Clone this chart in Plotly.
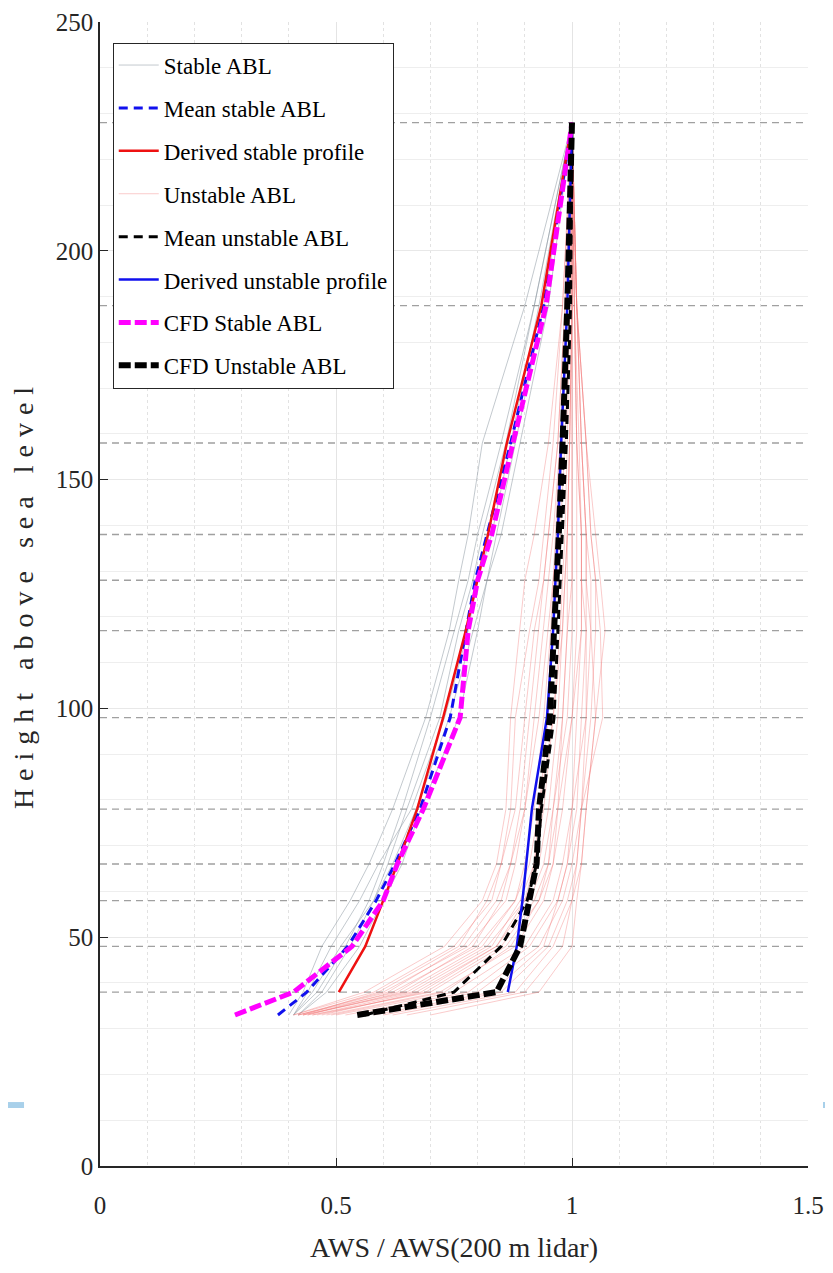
import plotly.graph_objects as go

# Heights (m) at which profiles are sampled
Z = [33, 38, 48, 58, 66, 78, 98, 117, 128, 138, 158, 188, 228]
# Lidar measurement heights (dashed reference lines)
LIDAR_HEIGHTS = [38, 48, 58, 66, 78, 98, 117, 128, 138, 158, 188, 228]

# Individual stable ABL profiles (normalised AWS)
STABLE_ABL = [
    [0.41, 0.46, 0.52, 0.57, 0.60, 0.64, 0.70, 0.75, 0.78, 0.80, 0.85, 0.92, 1.0],
    [0.41, 0.44, 0.49, 0.55, 0.59, 0.66, 0.73, 0.78, 0.80, 0.83, 0.87, 0.93, 1.0],
    [0.42, 0.48, 0.55, 0.60, 0.64, 0.68, 0.76, 0.80, 0.82, 0.84, 0.88, 0.94, 1.0],
    [0.40, 0.43, 0.47, 0.53, 0.57, 0.62, 0.69, 0.74, 0.76, 0.78, 0.81, 0.90, 1.0],
    [0.41, 0.45, 0.51, 0.58, 0.62, 0.67, 0.74, 0.79, 0.82, 0.85, 0.89, 0.95, 1.0],
    [0.42, 0.47, 0.53, 0.58, 0.61, 0.65, 0.72, 0.76, 0.79, 0.81, 0.86, 0.92, 1.0],
]

# Individual unstable ABL profiles
UNSTABLE_ABL = [
    [0.42, 0.60, 0.78, 0.86, 0.88, 0.90, 0.93, 0.95, 0.96, 0.97, 0.98, 0.99, 1.0],
    [0.43, 0.65, 0.82, 0.90, 0.93, 0.95, 0.97, 0.98, 0.985, 0.99, 0.995, 1.0, 1.0],
    [0.45, 0.70, 0.86, 0.93, 0.96, 0.98, 1.00, 1.01, 1.01, 1.01, 1.01, 1.005, 1.0],
    [0.41, 0.58, 0.75, 0.83, 0.85, 0.87, 0.88, 0.91, 0.93, 0.94, 0.96, 0.98, 1.0],
    [0.50, 0.75, 0.90, 0.96, 0.98, 1.00, 1.03, 1.04, 1.04, 1.03, 1.02, 1.01, 1.0],
    [0.55, 0.80, 0.93, 0.98, 1.00, 1.02, 1.065, 1.06, 1.05, 1.04, 1.03, 1.01, 1.0],
    [0.44, 0.62, 0.80, 0.88, 0.91, 0.93, 0.95, 0.96, 0.97, 0.975, 0.985, 0.995, 1.0],
    [0.47, 0.68, 0.84, 0.91, 0.94, 0.96, 0.99, 1.00, 1.00, 1.00, 1.00, 1.0, 1.0],
    [0.60, 0.85, 0.95, 0.99, 1.01, 1.02, 1.04, 1.05, 1.05, 1.04, 1.03, 1.01, 1.0],
    [0.42, 0.63, 0.79, 0.85, 0.87, 0.89, 0.91, 0.93, 0.94, 0.95, 0.97, 0.985, 1.0],
    [0.65, 0.90, 0.98, 1.00, 1.01, 1.02, 1.03, 1.03, 1.02, 1.02, 1.01, 1.005, 1.0],
    [0.48, 0.72, 0.88, 0.94, 0.96, 0.97, 0.98, 0.99, 0.99, 0.99, 0.995, 1.0, 1.0],
    [0.43, 0.66, 0.83, 0.89, 0.92, 0.94, 0.96, 0.975, 0.98, 0.985, 0.99, 0.995, 1.0],
    [0.52, 0.78, 0.91, 0.97, 0.99, 1.01, 1.02, 1.03, 1.03, 1.03, 1.02, 1.01, 1.0],
    [0.41, 0.56, 0.73, 0.81, 0.84, 0.86, 0.87, 0.89, 0.90, 0.92, 0.95, 0.98, 1.0],
    [0.70, 0.93, 1.00, 1.01, 1.02, 1.03, 1.05, 1.07, 1.06, 1.05, 1.03, 1.01, 1.0],
    [0.46, 0.69, 0.85, 0.92, 0.95, 0.96, 0.98, 0.99, 1.00, 1.00, 1.00, 1.0, 1.0],
    [0.44, 0.64, 0.81, 0.88, 0.90, 0.92, 0.94, 0.955, 0.96, 0.965, 0.975, 0.99, 1.0],
    [0.58, 0.83, 0.94, 0.97, 0.99, 1.00, 1.01, 1.02, 1.02, 1.02, 1.015, 1.005, 1.0],
    [0.42, 0.61, 0.77, 0.84, 0.87, 0.90, 0.92, 0.94, 0.95, 0.96, 0.975, 0.99, 1.0],
    [0.49, 0.73, 0.87, 0.93, 0.95, 0.97, 1.00, 1.02, 1.02, 1.02, 1.01, 1.005, 1.0],
    [0.45, 0.67, 0.84, 0.90, 0.92, 0.93, 0.96, 0.98, 0.985, 0.99, 0.995, 1.0, 1.0],
    [0.62, 0.88, 0.96, 1.00, 1.02, 1.03, 1.05, 1.04, 1.03, 1.03, 1.02, 1.01, 1.0],
    [0.43, 0.59, 0.76, 0.82, 0.85, 0.88, 0.90, 0.92, 0.94, 0.95, 0.97, 0.985, 1.0],
]

# Summary profiles
Z_DERIVED = [38, 48, 58, 66, 78, 98, 117, 128, 138, 158, 188, 228]
MEAN_STABLE = [0.377, 0.438, 0.525, 0.585, 0.625, 0.678, 0.742, 0.775, 0.795, 0.82, 0.87, 0.94, 1.0]
DERIVED_STABLE = [0.506, 0.562, 0.600, 0.630, 0.672, 0.727, 0.775, 0.800, 0.822, 0.862, 0.935, 1.0]
MEAN_UNSTABLE = [0.56, 0.75, 0.85, 0.905, 0.925, 0.935, 0.962, 0.97, 0.975, 0.98, 0.988, 0.997, 1.0]
DERIVED_UNSTABLE = [0.864, 0.883, 0.895, 0.903, 0.915, 0.947, 0.96, 0.965, 0.97, 0.977, 0.99, 1.0]
CFD_STABLE = [0.286, 0.41, 0.534, 0.60, 0.63, 0.685, 0.763, 0.78, 0.80, 0.83, 0.875, 0.945, 1.0]
CFD_UNSTABLE = [0.545, 0.84, 0.89, 0.91, 0.925, 0.93, 0.953, 0.962, 0.968, 0.972, 0.98, 0.99, 1.0]

FONT = "Liberation Serif"
AX = "#262626"

fig = go.Figure()

for i, xs in enumerate(STABLE_ABL):
    fig.add_trace(go.Scatter(x=xs, y=Z, mode="lines", name="Stable ABL",
                             legendgroup="g1", showlegend=(i == 0),
                             line=dict(color="rgba(140,150,160,0.65)", width=0.8)))
fig.add_trace(go.Scatter(x=MEAN_STABLE, y=Z, mode="lines", name="Mean stable ABL",
                         legendgroup="g2", line=dict(color="#1010ee", width=3, dash="9px,6px")))
fig.add_trace(go.Scatter(x=DERIVED_STABLE, y=Z_DERIVED, mode="lines", name="Derived stable profile",
                         legendgroup="g3", line=dict(color="#ee1111", width=2.5)))
for i, xs in enumerate(UNSTABLE_ABL):
    fig.add_trace(go.Scatter(x=xs, y=Z, mode="lines", name="Unstable ABL",
                             legendgroup="g4", showlegend=(i == 0),
                             line=dict(color="rgba(240,110,110,0.45)", width=0.8)))
fig.add_trace(go.Scatter(x=MEAN_UNSTABLE, y=Z, mode="lines", name="Mean unstable ABL",
                         legendgroup="g5", line=dict(color="#000000", width=3, dash="9px,6px")))
fig.add_trace(go.Scatter(x=DERIVED_UNSTABLE, y=Z_DERIVED, mode="lines", name="Derived unstable profile",
                         legendgroup="g6", line=dict(color="#1010ee", width=2.5)))
fig.add_trace(go.Scatter(x=CFD_STABLE, y=Z, mode="lines", name="CFD Stable ABL",
                         legendgroup="g7", line=dict(color="#ff00ff", width=5, dash="12px,4px")))
fig.add_trace(go.Scatter(x=CFD_UNSTABLE, y=Z, mode="lines", name="CFD Unstable ABL",
                         legendgroup="g8", line=dict(color="#000000", width=6, dash="12px,4px")))

for h in LIDAR_HEIGHTS:
    fig.add_hline(y=h, line=dict(color="#a0a0a0", width=1.3, dash="7px,5px"), layer="below")

fig.update_layout(
    width=825, height=1257,
    margin=dict(l=92, r=25, t=14, b=99),
    paper_bgcolor="white", plot_bgcolor="white",
    font=dict(family=FONT, color=AX, size=24),
    showlegend=True,
    legend=dict(x=0.018, y=0.982, xanchor="left", yanchor="top",
                bgcolor="white", bordercolor=AX, borderwidth=1,
                font=dict(family=FONT, size=23, color="black"),
                traceorder="grouped", tracegroupgap=10, itemwidth=40),
    xaxis=dict(range=[0, 1.5], tickmode="array", tickvals=[0, 0.5, 1, 1.5],
               ticktext=["0", "0.5", "1", "1.5"], automargin=False,
               showline=True, linecolor=AX, linewidth=1.5, ticks="inside", ticklen=8,
               tickcolor=AX, tickfont=dict(size=25, family=FONT, color=AX),
               ticklabelstandoff=16,
               showgrid=True, gridcolor="#e4e4e4", gridwidth=1, zeroline=False,
               minor=dict(dtick=0.1, showgrid=True, gridcolor="#e2e2e2", griddash="dot", gridwidth=1),
               title=dict(text="AWS / AWS(200 m lidar)", font=dict(size=28, family=FONT, color=AX),
                          standoff=20)),
    yaxis=dict(range=[0, 250], tickmode="array", tickvals=[0, 50, 100, 150, 200, 250],
               automargin=False,
               showline=True, linecolor=AX, linewidth=1.5, ticks="inside", ticklen=8,
               tickcolor=AX, tickfont=dict(size=25, family=FONT, color=AX),
               showgrid=True, gridcolor="#e8e8e8", gridwidth=1, zeroline=False,
               minor=dict(dtick=10, showgrid=True, gridcolor="#eeeeee", gridwidth=1),
               title=dict(text='<span style="letter-spacing:8px">Height above sea level</span>',
                          font=dict(size=28, family=FONT, color=AX), standoff=18)),
)

# decorative slide bars at the edges of the picture
fig.add_shape(type="rect", xref="paper", yref="paper", x0=-0.1412, x1=-0.1073, y0=0.0507, y1=0.0559,
              fillcolor="#a8d0ea", line=dict(width=0), layer="above")
fig.add_shape(type="rect", xref="paper", yref="paper", x0=1.0212, x1=1.0353, y0=0.0507, y1=0.0559,
              fillcolor="#a8d0ea", line=dict(width=0), layer="above")

fig.write_html("out.html")
